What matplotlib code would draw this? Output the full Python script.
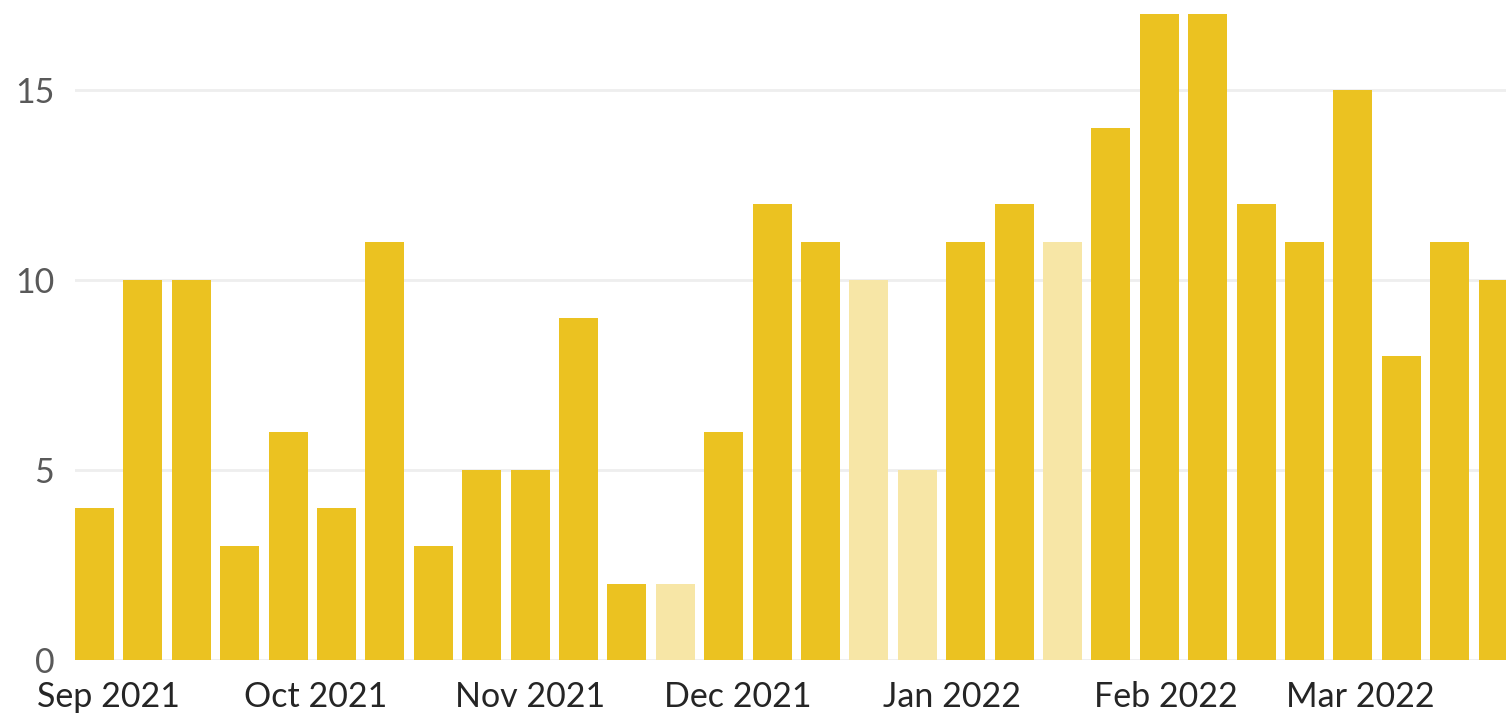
import numpy as np
import pandas as pd
import matplotlib
matplotlib.use("Agg")
import matplotlib.pyplot as plt
import matplotlib.dates as mdates

# weekly counts, weeks starting on Mondays
week_start = "2021-08-30"
counts = [4, 10, 10, 3, 6, 4, 11, 3, 5, 5, 9, 2, 2, 6, 12, 11, 10, 5, 11, 12,
          11, 14, 17, 17, 12, 11, 15, 8, 11, 10]
# weeks shown faded (incomplete data)
faded = [12, 16, 17, 20]
month_ticks = ["2021-09-01", "2021-10-01", "2021-11-01", "2021-12-01",
               "2022-01-01", "2022-02-01", "2022-03-01"]
month_labels = ["Sep 2021", "Oct 2021", "Nov 2021", "Dec 2021",
                "Jan 2022", "Feb 2022", "Mar 2022"]
y_ticks = [0, 5, 10, 15]

plt.rcParams['font.family'] = ['Lato', 'DejaVu Sans']

weeks = pd.date_range(week_start, periods=len(counts), freq="7D")
x = mdates.date2num(weeks)
colors = ["#F7E6A6" if i in faded else "#EBC221" for i in range(len(counts))]

fig = plt.figure(figsize=(15.06, 7.15), dpi=100)
ax = fig.add_axes([75 / 1506, 55 / 715, 1 - 75 / 1506, 646 / 715])

bw = 5.65
ax.bar(x, counts, width=bw, color=colors, zorder=2)

ax.set_xlim(x[0] - bw / 2, x[0] - bw / 2 + (1506 - 75) / 48.4 * 7)
ax.set_ylim(0, 17)

ax.set_yticks(y_ticks)
ax.yaxis.grid(True, color="#EEEEEE", linewidth=2, zorder=0)
ax.tick_params(axis="y", length=0, pad=15, labelsize=24.5, labelcolor="#595959")

ax.set_xticks(mdates.date2num(pd.to_datetime(month_ticks)))
ax.set_xticklabels(month_labels)
ax.tick_params(axis="x", length=0, pad=15, labelsize=24.5, labelcolor="#252525")

for s in ax.spines.values():
    s.set_visible(False)

fig.savefig("out.png", dpi=100)
